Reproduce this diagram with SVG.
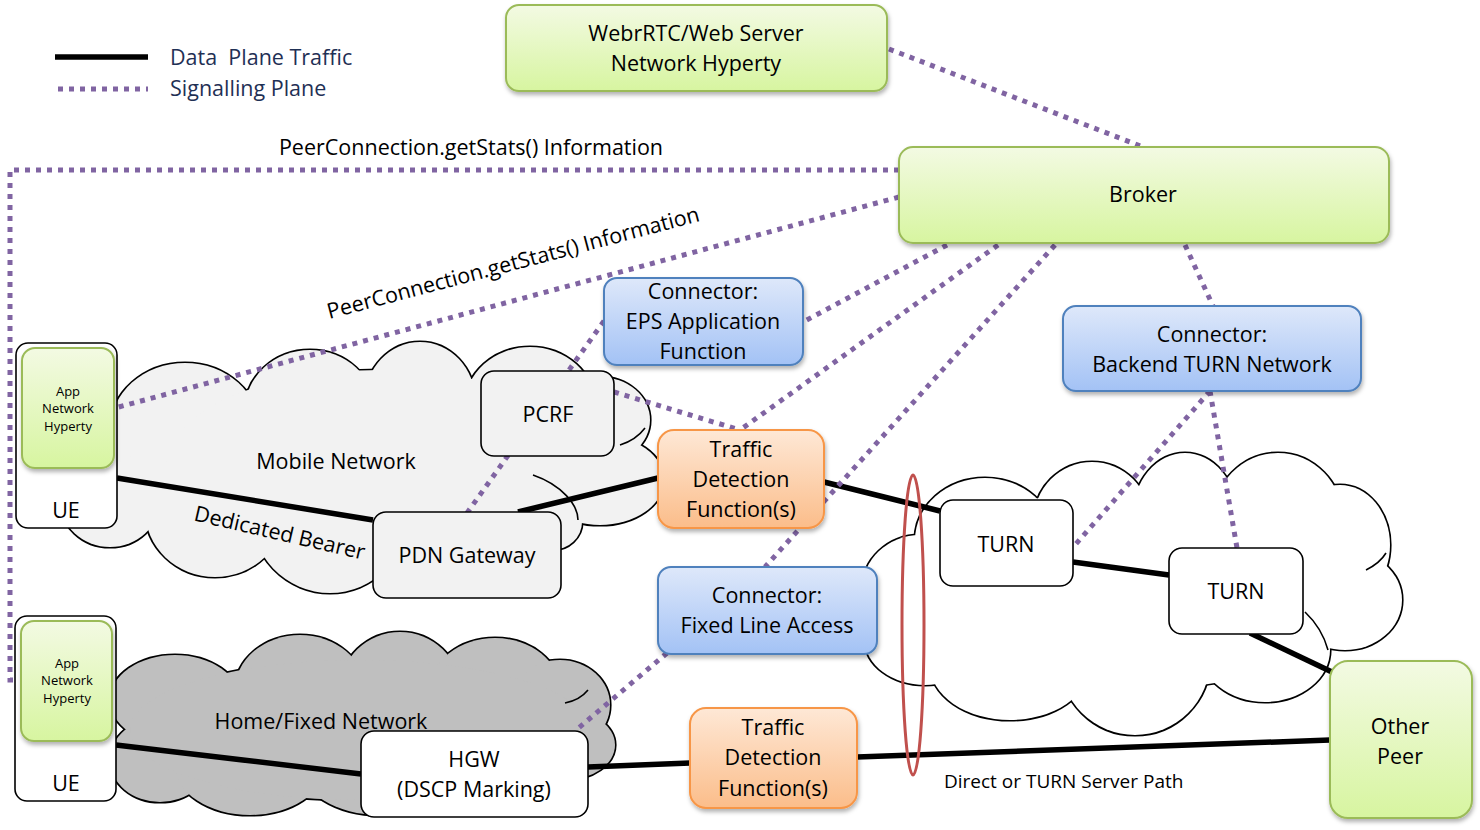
<svg xmlns="http://www.w3.org/2000/svg" xmlns:xlink="http://www.w3.org/1999/xlink" width="1480" height="830" viewBox="0 0 1480 830">
<style>
  text { font-family: "Open Sans", "Liberation Sans", sans-serif; fill: #000; }
  .lbl { font-size: 21.5px; text-anchor: middle; }
  .small { font-size: 13px; text-anchor: middle; }
  .legend { font-size: 21.5px; fill: #1F3055; }
  .data { fill: none; stroke: #000; stroke-width: 5.5; }
  .sig { fill: none; stroke: #8064A2; stroke-width: 5; stroke-dasharray: 5 6; }
  .green { fill: url(#gGreen); stroke: #9BBB59; stroke-width: 2; filter: url(#sh); }
  .blue { fill: url(#gBlue); stroke: #4F81BD; stroke-width: 2; filter: url(#sh); }
  .orange { fill: url(#gOrange); stroke: #F79646; stroke-width: 2; filter: url(#sh); }
  .grey { fill: #F2F2F2; stroke: #000; stroke-width: 1.6; }
  .white { fill: #FFF; stroke: #000; stroke-width: 1.6; }
  .crease { fill: none; stroke: #000; stroke-width: 1.6; }
</style>
<defs>
  <linearGradient id="gGreen" x1="0" y1="0" x2="0" y2="1">
    <stop offset="0" stop-color="#F3FAE3"/>
    <stop offset="1" stop-color="#D7F5A0"/>
  </linearGradient>
  <linearGradient id="gBlue" x1="0" y1="0" x2="0" y2="1">
    <stop offset="0" stop-color="#DEE8FA"/>
    <stop offset="1" stop-color="#A3C2F5"/>
  </linearGradient>
  <linearGradient id="gOrange" x1="0" y1="0" x2="0" y2="1">
    <stop offset="0" stop-color="#FEE8D6"/>
    <stop offset="1" stop-color="#FBBD8A"/>
  </linearGradient>
  <filter id="sh" x="-10%" y="-10%" width="125%" height="135%">
    <feDropShadow dx="1" dy="3" stdDeviation="2" flood-color="#000" flood-opacity="0.3"/>
  </filter>
  <g id="mobileBlobs">
    <ellipse cx="185" cy="430" rx="75" ry="67"/>
    <ellipse cx="310" cy="410" rx="65" ry="60"/>
    <ellipse cx="420" cy="400" rx="55" ry="58"/>
    <ellipse cx="530" cy="405" rx="65" ry="58"/>
    <ellipse cx="600" cy="420" rx="50" ry="43"/>
    <ellipse cx="600" cy="480" rx="64" ry="45"/>
    <ellipse cx="330" cy="510" rx="80" ry="83"/>
    <ellipse cx="215" cy="510" rx="70" ry="67"/>
    <ellipse cx="110" cy="500" rx="50" ry="47"/>
    <ellipse cx="470" cy="505" rx="100" ry="80"/>
    <ellipse cx="552" cy="522" rx="30" ry="28"/>
    <ellipse cx="380" cy="460" rx="210" ry="90"/>
  </g>
  <g id="homeBlobs">
    <ellipse cx="175" cy="700" rx="65" ry="45"/>
    <ellipse cx="300" cy="690" rx="65" ry="55"/>
    <ellipse cx="400" cy="690" rx="60" ry="58"/>
    <ellipse cx="495" cy="690" rx="65" ry="52"/>
    <ellipse cx="560" cy="705" rx="50" ry="45"/>
    <ellipse cx="565" cy="745" rx="50" ry="35"/>
    <ellipse cx="160" cy="760" rx="50" ry="42"/>
    <ellipse cx="250" cy="765" rx="75" ry="50"/>
    <ellipse cx="380" cy="765" rx="80" ry="50"/>
    <ellipse cx="480" cy="770" rx="80" ry="45"/>
    <ellipse cx="360" cy="730" rx="230" ry="70"/>
  </g>
  <g id="turnBlobs">
    <ellipse cx="985" cy="540" rx="70" ry="62"/>
    <ellipse cx="1092" cy="520" rx="58" ry="58"/>
    <ellipse cx="1185" cy="515" rx="52" ry="62"/>
    <ellipse cx="1278" cy="520" rx="65" ry="67"/>
    <ellipse cx="1340" cy="545" rx="50" ry="60"/>
    <ellipse cx="1345" cy="600" rx="57" ry="50"/>
    <ellipse cx="1265" cy="650" rx="65" ry="52"/>
    <ellipse cx="1135" cy="660" rx="75" ry="75"/>
    <ellipse cx="1010" cy="665" rx="80" ry="55"/>
    <ellipse cx="925" cy="640" rx="60" ry="45"/>
    <ellipse cx="920" cy="590" rx="58" ry="55"/>
    <ellipse cx="1130" cy="590" rx="230" ry="100"/>
  </g>
</defs>

<rect width="1480" height="830" fill="#FFFFFF"/>

<!-- Legend -->
<g id="legend">
  <line x1="55" y1="57" x2="148" y2="57" class="data" stroke-width="6"/>
  <line x1="58" y1="89" x2="148" y2="89" class="sig"/>
  <text x="170" y="65" class="legend" xml:space="preserve">Data  Plane Traffic</text>
  <text x="170" y="96" class="legend">Signalling Plane</text>
</g>

<!-- Clouds -->
<g id="mobile-network">
  <use xlink:href="#mobileBlobs" fill="none" stroke="#000" stroke-width="3.2"/>
  <use xlink:href="#mobileBlobs" fill="#F2F2F2" stroke="none"/>
  <path class="crease" d="M620,445 Q636,440 645,428"/>
  <path class="crease" d="M533,475 C562,485 578,505 578,520"/>
  <text x="336" y="469" class="lbl">Mobile Network</text>
  <text x="278" y="540" class="lbl" transform="rotate(13 278 540)">Dedicated Bearer</text>
</g>
<g id="home-network">
  <use xlink:href="#homeBlobs" fill="none" stroke="#000" stroke-width="3.2"/>
  <use xlink:href="#homeBlobs" fill="#BFBFBF" stroke="none"/>
  <path class="crease" d="M565,703 Q580,700 588,690"/>
  <text x="321" y="729" class="lbl">Home/Fixed Network</text>
</g>
<g id="turn-network">
  <use xlink:href="#turnBlobs" fill="none" stroke="#000" stroke-width="3.2"/>
  <use xlink:href="#turnBlobs" fill="#FFFFFF" stroke="none"/>
  <path class="crease" d="M1366,570 Q1380,563 1386,553"/>
  <path class="crease" d="M1305,612 Q1322,628 1328,650"/>
</g>

<!-- Connectors -->
<g id="connectors">
  <path class="data" d="M117,478 L373,520"/>
  <path class="data" d="M518,512 L658,478"/>
  <path class="data" d="M824,482 L940,511"/>
  <path class="data" d="M1073,562 L1169,575"/>
  <path class="data" d="M1250,633 L1332,672"/>
  <path class="data" d="M116,745 L361,774"/>
  <path class="data" d="M588,767 L690,763"/>
  <path class="data" d="M857,757 L1330,740"/>

  <path class="sig" d="M889,49 L1143,147"/>
  <path class="sig" d="M899,170 L10,170 L10,680 L22,680"/>
  <path class="sig" d="M899,197 L115,408"/>
  <path class="sig" d="M947,245 L803,322"/>
  <path class="sig" d="M604,321 L467,513"/>
  <path class="sig" d="M614,392 L740,430"/>
  <path class="sig" d="M998,245 L740,430"/>
  <path class="sig" d="M1055,245 L765,567"/>
  <path class="sig" d="M667,653 L575,731"/>
  <path class="sig" d="M1185,245 L1213,306"/>
  <path class="sig" d="M1210,391 L1075,545"/>
  <path class="sig" d="M1210,391 L1237,548"/>

  <text x="471" y="155" font-size="21.5" text-anchor="middle">PeerConnection.getStats() Information</text>
  <text x="515" y="270" font-size="21.5" text-anchor="middle" transform="rotate(-14.8 515 270)">PeerConnection.getStats() Information</text>

  <ellipse cx="913" cy="625" rx="11" ry="150" fill="none" stroke="#C0504D" stroke-width="3"/>
  <text x="944" y="788" font-size="19">Direct or TURN Server Path</text>
</g>

<!-- Nodes -->
<g id="webrtc-server">
  <rect x="506" y="5" width="381" height="86" rx="13" class="green"/>
  <text x="696" y="41" class="lbl">WebrRTC/Web Server</text>
  <text x="696" y="71" class="lbl">Network Hyperty</text>
</g>
<g id="broker">
  <rect x="899" y="147" width="490" height="96" rx="14" class="green"/>
  <text x="1143" y="202" class="lbl">Broker</text>
</g>
<g id="connector-eps">
  <rect x="604" y="278" width="199" height="87" rx="13" class="blue"/>
  <text x="703" y="299" class="lbl">Connector:</text>
  <text x="703" y="329" class="lbl">EPS Application</text>
  <text x="703" y="359" class="lbl">Function</text>
</g>
<g id="connector-backend-turn">
  <rect x="1063" y="306" width="298" height="85" rx="13" class="blue"/>
  <text x="1212" y="342" class="lbl">Connector:</text>
  <text x="1212" y="372" class="lbl">Backend TURN Network</text>
</g>
<g id="connector-fixed">
  <rect x="658" y="567" width="219" height="87" rx="13" class="blue"/>
  <text x="767" y="603" class="lbl">Connector:</text>
  <text x="767" y="633" class="lbl">Fixed Line Access</text>
</g>
<g id="tdf-mobile">
  <rect x="658" y="430" width="166" height="98" rx="16" class="orange"/>
  <text x="741" y="457" class="lbl">Traffic</text>
  <text x="741" y="487" class="lbl">Detection</text>
  <text x="741" y="517" class="lbl">Function(s)</text>
</g>
<g id="tdf-fixed">
  <rect x="690" y="708" width="167" height="100" rx="16" class="orange"/>
  <text x="773" y="735" class="lbl">Traffic</text>
  <text x="773" y="765" class="lbl">Detection</text>
  <text x="773" y="796" class="lbl">Function(s)</text>
</g>
<g id="pcrf">
  <rect x="481" y="371" width="133" height="85" rx="13" class="grey"/>
  <text x="548" y="422" class="lbl">PCRF</text>
</g>
<g id="pdn-gateway">
  <rect x="373" y="512" width="188" height="86" rx="13" class="grey"/>
  <text x="467" y="563" class="lbl">PDN Gateway</text>
</g>
<g id="hgw">
  <rect x="361" y="731" width="227" height="86" rx="13" class="white"/>
  <text x="474" y="767" class="lbl">HGW</text>
  <text x="474" y="797" class="lbl">(DSCP Marking)</text>
</g>
<g id="turn-1">
  <rect x="940" y="500" width="133" height="86" rx="13" class="white"/>
  <text x="1006" y="552" class="lbl">TURN</text>
</g>
<g id="turn-2">
  <rect x="1169" y="548" width="134" height="86" rx="13" class="white"/>
  <text x="1236" y="599" class="lbl">TURN</text>
</g>
<g id="other-peer">
  <rect x="1330" y="661" width="142" height="157" rx="18" class="green"/>
  <text x="1400" y="734" class="lbl">Other</text>
  <text x="1400" y="764" class="lbl">Peer</text>
</g>
<g id="ue-1">
  <rect x="16" y="343" width="101" height="185" rx="12" class="white"/>
  <rect x="22" y="348" width="92" height="120" rx="13" class="green"/>
  <text x="68" y="396" class="small">App</text>
  <text x="68" y="413" class="small">Network</text>
  <text x="68" y="431" class="small">Hyperty</text>
  <text x="66" y="518" class="lbl">UE</text>
</g>
<g id="ue-2">
  <rect x="15" y="616" width="101" height="185" rx="12" class="white"/>
  <rect x="21" y="621" width="91" height="120" rx="13" class="green"/>
  <text x="67" y="668" class="small">App</text>
  <text x="67" y="685" class="small">Network</text>
  <text x="67" y="703" class="small">Hyperty</text>
  <text x="66" y="791" class="lbl">UE</text>
</g>
</svg>
